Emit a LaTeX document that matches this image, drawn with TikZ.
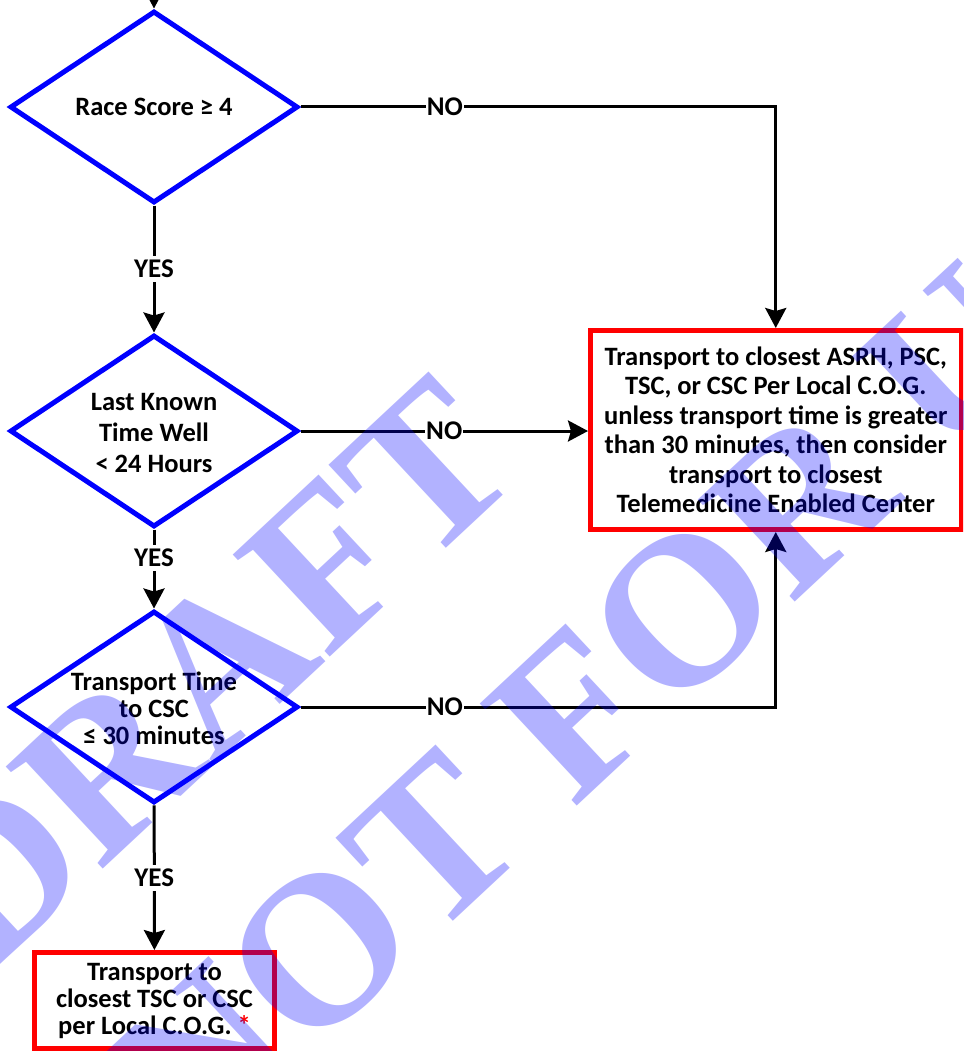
\documentclass[tikz,border=0pt]{standalone}
\usepackage{fontspec}
\setmainfont{Carlito}
\newfontfamily\wmfont{Liberation Serif}
\usetikzlibrary{shapes.geometric,arrows.meta}
\definecolor{diablue}{RGB}{0,0,255}
\definecolor{boxred}{RGB}{255,0,0}
\begin{document}
\begin{tikzpicture}[x=1pt,y=-1pt,
  dia/.style={draw=diablue, line width=5pt, shape=diamond,
    minimum width=288pt, minimum height=192pt, inner sep=0pt},
  diatxt/.style={font=\bfseries\fontsize{26.5}{31}\selectfont, align=flush center, inner sep=0pt},
  endbox/.style={draw=boxred, line width=5pt, rectangle, align=flush center,
    font=\bfseries\fontsize{26.5}{29.5}\selectfont, inner sep=0pt},
  conn/.style={draw=black, line width=3pt,
    -{Stealth[length=20pt,width=21pt,inset=3pt]}},
  lbl/.style={fill=white, font=\bfseries\fontsize{27}{30}\selectfont, inner sep=1pt},
  yeslbl/.style={lbl, inner ysep=4pt},
  wm/.style={font=\wmfont\bfseries\fontsize{215}{215}\selectfont, text=diablue,
    text opacity=0.3, inner sep=0pt, anchor=base west, rotate=43}
]
\useasboundingbox (0,0) rectangle (963,1051);
\begin{scope}
\clip (0,0) rectangle (963,1051);

% decision diamonds
\node[dia, label={[diatxt]center:Race Score ≥ 4}] (d1) at (154,107) {};
\node[dia, label={[diatxt, yshift=-2pt]center:Last Known\\Time Well\\< 24 Hours}] (d2) at (154,431) {};
\node[dia, label={[diatxt, font=\bfseries\fontsize{26.5}{27}\selectfont, yshift=-1pt]center:Transport Time\\to CSC\\≤ 30 minutes}] (d3) at (154,707) {};

% outcome boxes
\node[endbox, minimum width=240pt, minimum height=96pt, text width=236pt,
  font=\bfseries\fontsize{26.5}{27}\selectfont] (b1) at (154.5,1000.5)
  {Transport to\\closest TSC or CSC\\per Local C.O.G. \textcolor{boxred}{*}};
\node[endbox, minimum width=370.5pt, minimum height=199pt, text width=366pt] (b2) at (775.75,430)
  {Transport to closest ASRH, PSC,\\TSC, or CSC Per Local C.O.G.\\unless transport time is greater\\than 30 minutes, then consider\\transport to closest\\Telemedicine Enabled Center};

% incoming flow from above
\coordinate (in) at (154,-40);
\draw[conn] (in) -- (d1);

% YES branches
\draw[conn] (d1) -- node[yeslbl]{YES} (d2);
\draw[conn] (d2) -- node[yeslbl, pos=0.36]{YES} (d3);
\draw[conn] (d3) -- node[yeslbl]{YES} (b1);

% NO branches
\draw[conn] (d1.east) -| node[lbl, pos=0.152]{NO} (b2.north);
\draw[conn] (d2.east) -- node[lbl, pos=0.5]{NO} (d2.east -| b2.west);
\draw[conn] (d3.east) -| node[lbl, pos=0.152]{NO} (b2.south);

% watermark
\node[wm] (wm1) at (-14,978) {DRAFT};
\node[wm] (wm2) at (193,1164) {NOT FOR USE};
\end{scope}
\end{tikzpicture}
\end{document}
